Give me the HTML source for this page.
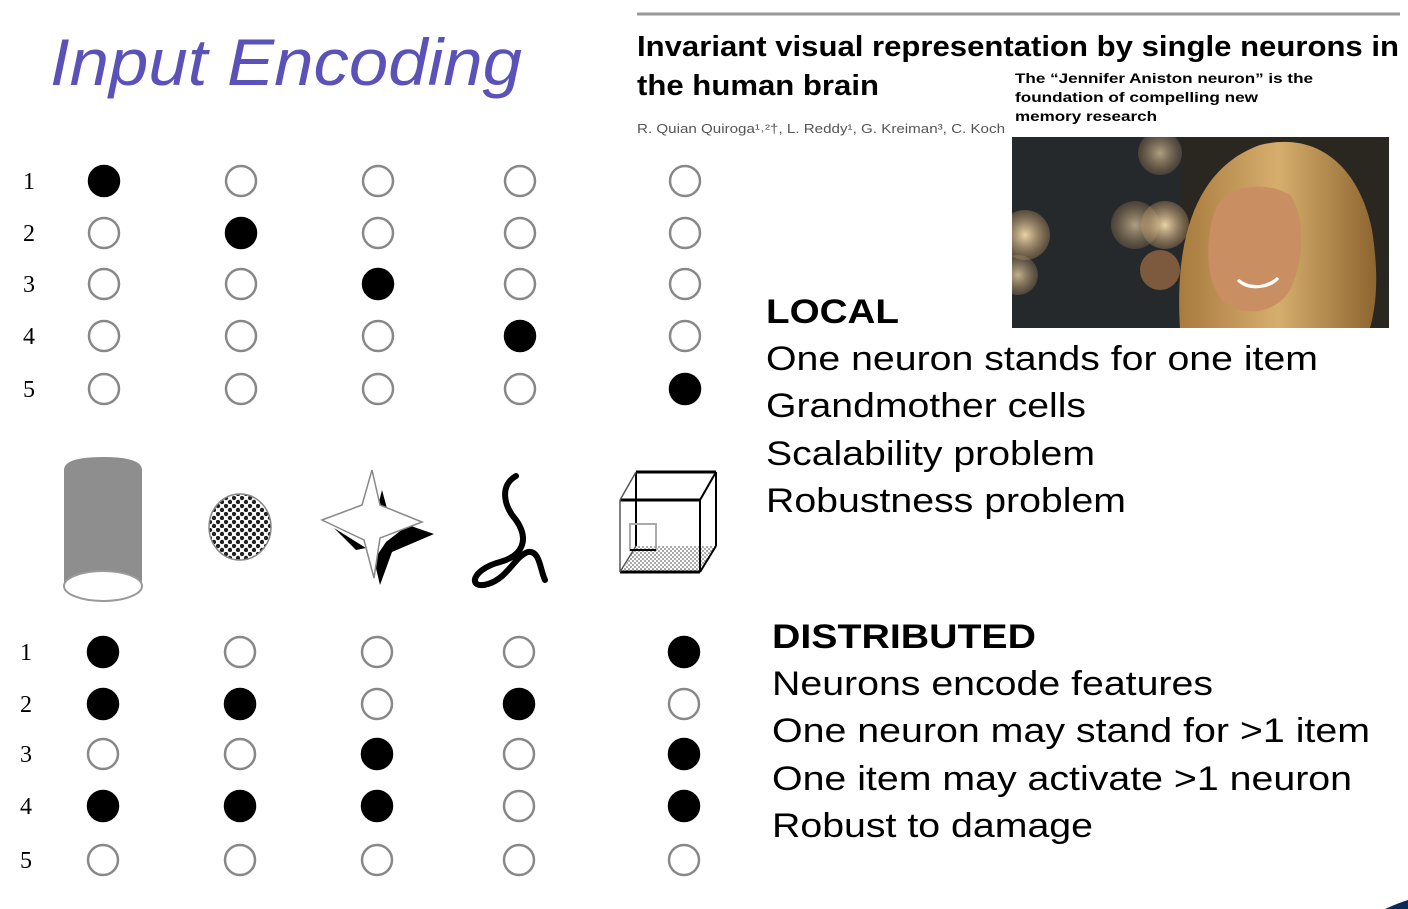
<!DOCTYPE html>
<html><head><meta charset="utf-8"><style>
html,body{margin:0;padding:0;background:#fff;width:1408px;height:909px;overflow:hidden}
svg{display:block}
.t{font-family:"Liberation Sans",sans-serif;fill:#000}
.n{font-family:"Liberation Serif",serif;font-size:24px;fill:#000}
</style></head><body>
<svg width="1408" height="909" viewBox="0 0 1408 909" xmlns="http://www.w3.org/2000/svg">
<defs>
<pattern id="dots" width="8" height="8" patternUnits="userSpaceOnUse"><rect width="8" height="8" fill="#fff"/><circle cx="2" cy="2" r="2.2" fill="#222"/><circle cx="6" cy="6" r="2.2" fill="#222"/></pattern>
<pattern id="fl" width="4" height="4" patternUnits="userSpaceOnUse"><rect width="4" height="4" fill="#fff"/><rect width="2" height="2" fill="#aaa"/><rect x="2" y="2" width="2" height="2" fill="#aaa"/></pattern>
<radialGradient id="bk" cx="0.5" cy="0.5" r="0.5"><stop offset="0" stop-color="#f4dcae" stop-opacity="0.95"/><stop offset="1" stop-color="#c9a06a" stop-opacity="0.3"/></radialGradient>
<linearGradient id="hair" x1="0" y1="0" x2="1" y2="0"><stop offset="0" stop-color="#a77a3e"/><stop offset="0.5" stop-color="#d6ae6d"/><stop offset="1" stop-color="#8e6530"/></linearGradient>
<clipPath id="pc"><rect x="1012" y="137" width="377" height="191"/></clipPath>
</defs>

<text x="50" y="85" font-family="Liberation Sans,sans-serif" font-style="italic" font-size="66" fill="#5a52b8" textLength="472" lengthAdjust="spacingAndGlyphs">Input Encoding</text>

<line x1="637" y1="14" x2="1400" y2="14" stroke="#999" stroke-width="3"/>
<text class="t" x="637" y="56" font-size="29" font-weight="bold" textLength="762" lengthAdjust="spacingAndGlyphs">Invariant visual representation by single neurons in</text>
<text class="t" x="637" y="95" font-size="29" font-weight="bold" textLength="242" lengthAdjust="spacingAndGlyphs">the human brain</text>
<text x="637" y="133" font-family="Liberation Sans,sans-serif" font-size="13" fill="#555" textLength="368" lengthAdjust="spacingAndGlyphs">R. Quian Quiroga¹˒²†, L. Reddy¹, G. Kreiman³, C. Koch</text>
<text class="t" x="1015" y="83" font-size="14" font-weight="bold" textLength="298" lengthAdjust="spacingAndGlyphs">The “Jennifer Aniston neuron” is the</text>
<text class="t" x="1015" y="102" font-size="14" font-weight="bold" textLength="243" lengthAdjust="spacingAndGlyphs">foundation of compelling new</text>
<text class="t" x="1015" y="121" font-size="14" font-weight="bold" textLength="142" lengthAdjust="spacingAndGlyphs">memory research</text>

<g clip-path="url(#pc)">
<rect x="1012" y="137" width="377" height="191" fill="#2a2620"/>
<rect x="1012" y="137" width="170" height="191" fill="#26292c"/>
<circle cx="1025" cy="235" r="25" fill="url(#bk)"/>
<circle cx="1018" cy="275" r="20" fill="url(#bk)" opacity="0.8"/>
<circle cx="1135" cy="225" r="24" fill="url(#bk)" opacity="0.7"/>
<circle cx="1165" cy="225" r="24" fill="url(#bk)"/>
<circle cx="1160" cy="270" r="20" fill="#b77a4a" opacity="0.6"/>
<circle cx="1160" cy="153" r="22" fill="url(#bk)" opacity="0.7"/>
<path d="M1180,328 C1175,250 1190,170 1260,145 C1320,130 1360,170 1372,230 C1380,280 1375,310 1370,328 Z" fill="url(#hair)"/>
<path d="M1215,210 C1225,185 1265,180 1290,195 C1305,215 1305,260 1290,290 C1275,315 1240,318 1222,300 C1205,280 1205,240 1215,210 Z" fill="#c98e62"/>
<path d="M1238,280 C1250,290 1270,288 1278,278 C1270,286 1250,292 1238,280 Z" fill="#fff" stroke="#fff" stroke-width="3"/>
</g>

<text class="t" x="766" y="323" font-size="34" font-weight="bold" textLength="133" lengthAdjust="spacingAndGlyphs">LOCAL</text>
<text class="t" x="766" y="370" font-size="34" textLength="552" lengthAdjust="spacingAndGlyphs">One neuron stands for one item</text>
<text class="t" x="766" y="417" font-size="34" textLength="320" lengthAdjust="spacingAndGlyphs">Grandmother cells</text>
<text class="t" x="766" y="465" font-size="34" textLength="329" lengthAdjust="spacingAndGlyphs">Scalability problem</text>
<text class="t" x="766" y="512" font-size="34" textLength="360" lengthAdjust="spacingAndGlyphs">Robustness problem</text>

<text class="t" x="772" y="648" font-size="34" font-weight="bold" textLength="264" lengthAdjust="spacingAndGlyphs">DISTRIBUTED</text>
<text class="t" x="772" y="695" font-size="34" textLength="441" lengthAdjust="spacingAndGlyphs">Neurons encode features</text>
<text class="t" x="772" y="742" font-size="34" textLength="598" lengthAdjust="spacingAndGlyphs">One neuron may stand for &gt;1 item</text>
<text class="t" x="772" y="790" font-size="34" textLength="580" lengthAdjust="spacingAndGlyphs">One item may activate &gt;1 neuron</text>
<text class="t" x="772" y="837" font-size="34" textLength="321" lengthAdjust="spacingAndGlyphs">Robust to damage</text>

<g class="n">
<text x="23" y="189">1</text><text x="23" y="241">2</text><text x="23" y="292">3</text><text x="23" y="344">4</text><text x="23" y="397">5</text>
<text x="20" y="660">1</text><text x="20" y="712">2</text><text x="20" y="762">3</text><text x="20" y="814">4</text><text x="20" y="868">5</text>
</g>

<g stroke="#888" stroke-width="2.5" fill="#fff">
<circle cx="104" cy="181" r="15" fill="#000" stroke="#000"/><circle cx="241" cy="181" r="15"/><circle cx="378" cy="181" r="15"/><circle cx="520" cy="181" r="15"/><circle cx="685" cy="181" r="15"/>
<circle cx="104" cy="233" r="15"/><circle cx="241" cy="233" r="15" fill="#000" stroke="#000"/><circle cx="378" cy="233" r="15"/><circle cx="520" cy="233" r="15"/><circle cx="685" cy="233" r="15"/>
<circle cx="104" cy="284" r="15"/><circle cx="241" cy="284" r="15"/><circle cx="378" cy="284" r="15" fill="#000" stroke="#000"/><circle cx="520" cy="284" r="15"/><circle cx="685" cy="284" r="15"/>
<circle cx="104" cy="336" r="15"/><circle cx="241" cy="336" r="15"/><circle cx="378" cy="336" r="15"/><circle cx="520" cy="336" r="15" fill="#000" stroke="#000"/><circle cx="685" cy="336" r="15"/>
<circle cx="104" cy="389" r="15"/><circle cx="241" cy="389" r="15"/><circle cx="378" cy="389" r="15"/><circle cx="520" cy="389" r="15"/><circle cx="685" cy="389" r="15" fill="#000" stroke="#000"/>
<circle cx="103" cy="652" r="15" fill="#000" stroke="#000"/><circle cx="240" cy="652" r="15"/><circle cx="377" cy="652" r="15"/><circle cx="519" cy="652" r="15"/><circle cx="684" cy="652" r="15" fill="#000" stroke="#000"/>
<circle cx="103" cy="704" r="15" fill="#000" stroke="#000"/><circle cx="240" cy="704" r="15" fill="#000" stroke="#000"/><circle cx="377" cy="704" r="15"/><circle cx="519" cy="704" r="15" fill="#000" stroke="#000"/><circle cx="684" cy="704" r="15"/>
<circle cx="103" cy="754" r="15"/><circle cx="240" cy="754" r="15"/><circle cx="377" cy="754" r="15" fill="#000" stroke="#000"/><circle cx="519" cy="754" r="15"/><circle cx="684" cy="754" r="15" fill="#000" stroke="#000"/>
<circle cx="103" cy="806" r="15" fill="#000" stroke="#000"/><circle cx="240" cy="806" r="15" fill="#000" stroke="#000"/><circle cx="377" cy="806" r="15" fill="#000" stroke="#000"/><circle cx="519" cy="806" r="15"/><circle cx="684" cy="806" r="15" fill="#000" stroke="#000"/>
<circle cx="103" cy="860" r="15"/><circle cx="240" cy="860" r="15"/><circle cx="377" cy="860" r="15"/><circle cx="519" cy="860" r="15"/><circle cx="684" cy="860" r="15"/>
</g>

<path d="M64,470 Q64,457 103,457 Q142,457 142,470 L142,586 L64,586 Z" fill="#8e8e8e"/>
<ellipse cx="103" cy="586" rx="39" ry="15" fill="#fff" stroke="#999" stroke-width="2"/>
<ellipse cx="240" cy="527" rx="31" ry="33" fill="url(#dots)" stroke="#888" stroke-width="1.5"/>

<!-- star with shadows -->
<path d="M382,490 L388,512 L378,506 Z" fill="#000"/>
<path d="M408,525 L434,534 L392,552 L380,585 L374,560 L386,542 Z" fill="#000"/>
<path d="M334,528 L366,548 L356,550 Z" fill="#000"/>
<path d="M372,470 L380,505 L422,522 L380,538 L374,578 L364,540 L322,520 L362,505 Z" fill="#fff" stroke="#888" stroke-width="1.5"/>

<path d="M516,476 C500,485 503,505 516,520 C530,540 522,556 500,562 C470,570 468,590 488,584 C508,578 515,556 528,552 C540,550 540,570 545,580" fill="none" stroke="#000" stroke-width="6" stroke-linecap="round"/>

<g fill="none">
<polygon points="622,572 700,572 716,546 636,546" fill="url(#fl)" stroke="none"/>
<line x1="636" y1="472" x2="716" y2="472" stroke="#000" stroke-width="3"/>
<line x1="620" y1="500" x2="700" y2="500" stroke="#000" stroke-width="3"/>
<line x1="620" y1="572" x2="700" y2="572" stroke="#000" stroke-width="3"/>
<line x1="716" y1="472" x2="716" y2="546" stroke="#000" stroke-width="2"/>
<line x1="700" y1="500" x2="700" y2="572" stroke="#000" stroke-width="2"/>
<line x1="620" y1="500" x2="620" y2="572" stroke="#555" stroke-width="1.5"/>
<line x1="636" y1="472" x2="636" y2="546" stroke="#000" stroke-width="2"/>
<line x1="620" y1="500" x2="636" y2="472" stroke="#555" stroke-width="1.5"/>
<line x1="700" y1="500" x2="716" y2="472" stroke="#000" stroke-width="2"/>
<line x1="700" y1="572" x2="716" y2="546" stroke="#000" stroke-width="2"/>
<line x1="620" y1="572" x2="636" y2="546" stroke="#555" stroke-width="1.5"/>
<rect x="630" y="524" width="26" height="26" stroke="#aaa" stroke-width="2"/>
<line x1="630" y1="550" x2="656" y2="550" stroke="#000" stroke-width="2"/>
</g>

<path d="M1385,909 Q1398,903 1408,900 L1408,909 Z" fill="#0d2a55"/>
</svg>
</body></html>
